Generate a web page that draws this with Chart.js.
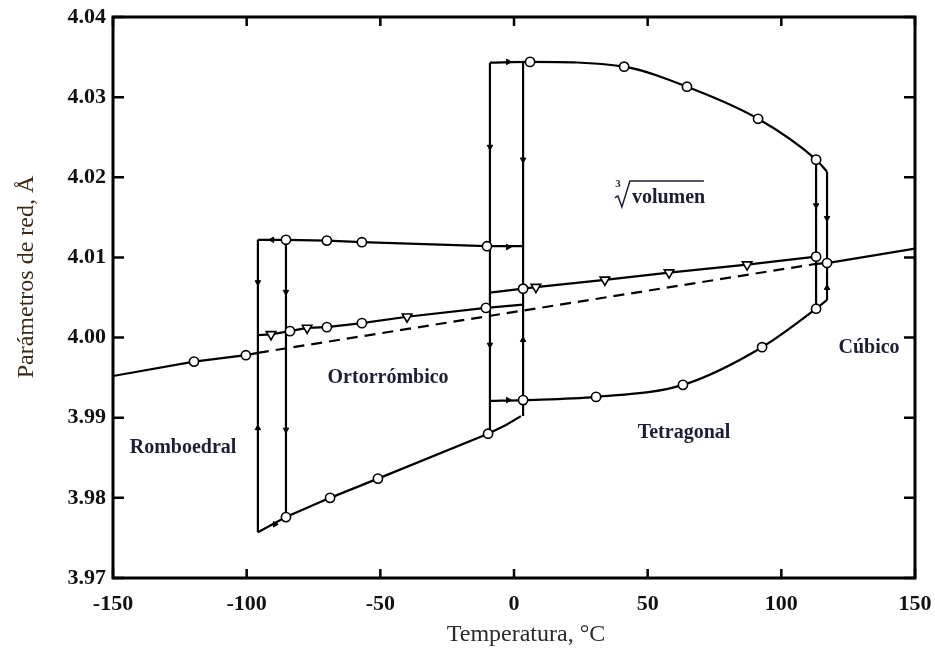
<!DOCTYPE html>
<html>
<head>
<meta charset="utf-8">
<title>Parámetros de red</title>
<script src="https://cdn.jsdelivr.net/npm/chart.js@4.4.0/dist/chart.umd.min.js"></script>
<style>
  html, body { margin: 0; padding: 0; background: #fff; }
</style>
</head>
<body>
<canvas id="myChart" width="935" height="652"></canvas>
<script>
// axis ticks
var tickX = [-150, -100, -50, 0, 50, 100, 150];
var tickY = [3.97, 3.98, 3.99, 4.00, 4.01, 4.02, 4.03, 4.04];

// rhombohedral a (solid), its extrapolation (dashed) and cubic a (solid)
var romboT = [-150, -119.7, -100.3, -95.8];
var romboA = [3.9952, 3.9970, 3.9978, 3.9981];
var volT = [-95.8, 113.0];
var volA = [3.9981, 4.0092];
var cubicT = [113.0, 117.1, 150];
var cubicA = [4.0092, 4.0093, 4.0111];

// orthorhombic
var ortTopT = [-95.8, -85.3, -70.0, -56.9, -10.1, 3.4];
var ortTopA = [4.0122, 4.0122, 4.0121, 4.0119, 4.0114, 4.0114];
var ortMidT = [-95.8, -90.9, -83.8, -77.4, -70.0, -56.9, -40.0, -10.5, 3.4];
var ortMidA = [4.0003, 4.0004, 4.0008, 4.0012, 4.0013, 4.0018, 4.0026, 4.0037, 4.0041];
var ortBotT = [-95.8, -85.3, -68.8, -50.9, -9.7, -3.0, 2.6];
var ortBotA = [3.9757, 3.9776, 3.9800, 3.9824, 3.9880, 3.9891, 3.9902];

// tetragonal
var tetCT = [-9.0, 6.0, 41.2, 64.7, 91.3, 113.0, 117.1];
var tetCA = [4.0343, 4.0344, 4.0338, 4.0313, 4.0273, 4.0222, 4.0207];
var tetAT = [-9.0, 3.4, 8.2, 34.0, 58.0, 87.2, 113.0];
var tetAA = [4.0056, 4.0061, 4.0063, 4.0072, 4.0081, 4.0091, 4.0101];
var tetBT = [-9.0, 3.4, 30.7, 63.2, 92.8, 113.0, 117.1];
var tetBA = [3.9921, 3.9922, 3.9926, 3.9941, 3.9988, 4.0036, 4.0047];

// measured points (open circles / open triangles)
var circT = [-119.7, -100.3, 117.1,
  -85.3, -70.0, -56.9, -10.1,
  -83.8, -70.0, -56.9, -10.5,
  -85.3, -68.8, -50.9, -9.7,
  6.0, 41.2, 64.7, 91.3, 113.0,
  3.4, 113.0,
  3.4, 30.7, 63.2, 92.8, 113.0];
var circA = [3.9970, 3.9978, 4.0093,
  4.0122, 4.0121, 4.0119, 4.0114,
  4.0008, 4.0013, 4.0018, 4.0037,
  3.9776, 3.9800, 3.9824, 3.9880,
  4.0344, 4.0338, 4.0313, 4.0273, 4.0222,
  4.0061, 4.0101,
  3.9922, 3.9926, 3.9941, 3.9988, 4.0036];
var triT = [-90.9, -77.4, -40.0, 8.2, 34.0, 58.0, 87.2];
var triA = [4.0004, 4.0012, 4.0026, 4.0063, 4.0072, 4.0081, 4.0091];

// transition steps: [temperature, from, to]
var steps = [
  [-95.8, 4.0122, 3.9757],
  [-85.3, 4.0122, 3.9776],
  [-9.0, 4.0343, 3.9880],
  [3.4, 4.0344, 3.9902],
  [113.0, 4.0222, 4.0036],
  [117.1, 4.0207, 4.0047]
];

// small direction arrows along the paths
var arrowT = [-95.8, -95.8, -85.3, -85.3, -90.5, -89.4, -9.0, 3.4, -9.0, 3.4, -2.2, -2.2, -2.2, 113.0, 117.1, 117.1];
var arrowA = [4.0069, 3.9887, 4.0057, 3.9885, 4.0122, 3.9767, 4.0238, 4.0222, 3.9991, 3.9997, 4.0344, 4.0113, 3.9922, 4.0165, 4.0149, 4.0062];
var arrowDir = [180, 0, 180, 180, 270, 90, 180, 180, 180, 0, 90, 90, 90, 180, 180, 0];

var regionNames = ['Romboedral', 'Ortorrómbico', 'Tetragonal', 'Cúbico'];
var regionT = [-123.8, -47.1, 63.6, 132.8];
var regionA = [3.9862, 3.9950, 3.9881, 3.9987];

function pts(t, a) {
  return t.map(function (x, i) { return { x: x, y: a[i] }; });
}

function curve(t, a, extra) {
  var ds = {
    data: pts(t, a),
    showLine: true,
    borderColor: '#000',
    borderWidth: 2.2,
    pointRadius: 0,
    fill: false,
    order: 3
  };
  for (var k in extra) ds[k] = extra[k];
  return ds;
}

var datasets = [
  curve(romboT, romboA),
  curve(volT, volA, { borderDash: [11, 7], borderWidth: 2.2 }),
  curve(cubicT, cubicA),
  curve(ortTopT, ortTopA),
  curve(ortMidT, ortMidA),
  curve(ortBotT, ortBotA),
  curve(tetCT, tetCA, { cubicInterpolationMode: 'monotone' }),
  curve(tetAT, tetAA),
  curve(tetBT, tetBA, { cubicInterpolationMode: 'monotone' })
];

steps.forEach(function (s) {
  datasets.push(curve([s[0], s[0]], [s[1], s[2]]));
});

datasets.push({
  data: pts(arrowT, arrowA),
  showLine: false,
  pointStyle: 'triangle',
  pointRotation: arrowDir,
  pointRadius: 3.2,
  backgroundColor: '#000',
  borderColor: '#000',
  borderWidth: 1,
  order: 2
});
datasets.push({
  data: pts(circT, circA),
  showLine: false,
  pointStyle: 'circle',
  pointRadius: 4.6,
  backgroundColor: '#fff',
  borderColor: '#000',
  borderWidth: 1.6,
  order: 1
});
datasets.push({
  data: pts(triT, triA),
  showLine: false,
  pointStyle: 'triangle',
  pointRotation: 180,
  pointRadius: 5.5,
  backgroundColor: '#fff',
  borderColor: '#000',
  borderWidth: 1.6,
  order: 1
});

// frame with inward ticks, axis titles and region names
var decorations = {
  id: 'decorations',
  afterDraw: function (chart) {
    var ctx = chart.ctx, a = chart.chartArea;
    var sx = chart.scales.x, sy = chart.scales.y;
    ctx.save();
    ctx.strokeStyle = '#000';
    ctx.lineWidth = 2.5;
    tickX.forEach(function (v) {
      var p = sx.getPixelForValue(v);
      ctx.beginPath();
      ctx.moveTo(p, a.bottom); ctx.lineTo(p, a.bottom - 9);
      ctx.moveTo(p, a.top); ctx.lineTo(p, a.top + 9);
      ctx.stroke();
    });
    tickY.forEach(function (v) {
      var p = sy.getPixelForValue(v);
      ctx.beginPath();
      ctx.moveTo(a.left, p); ctx.lineTo(a.left + 11, p);
      ctx.moveTo(a.right, p); ctx.lineTo(a.right - 11, p);
      ctx.stroke();
    });
    ctx.lineWidth = 3;
    ctx.strokeRect(a.left, a.top, a.right - a.left, a.bottom - a.top);

    // region names
    ctx.fillStyle = '#1b1f36';
    ctx.font = 'bold 20px "Liberation Serif", "Times New Roman", serif';
    ctx.textAlign = 'center';
    ctx.textBaseline = 'middle';
    regionNames.forEach(function (n, i) {
      ctx.fillText(n, sx.getPixelForValue(regionT[i]), sy.getPixelForValue(regionA[i]));
    });

    // cube root of volume label
    var tx = sx.getPixelForValue(44.1), ty = sy.getPixelForValue(4.0178);
    ctx.textAlign = 'left';
    ctx.textBaseline = 'alphabetic';
    ctx.fillText('volumen', tx, ty + 8);
    ctx.lineWidth = 1.5;
    ctx.strokeStyle = '#1b1f36';
    ctx.beginPath();
    ctx.moveTo(tx - 17, ty + 3);
    ctx.lineTo(tx - 14, ty + 1);
    ctx.lineTo(tx - 10, ty + 12);
    ctx.lineTo(tx - 2, ty - 14);
    ctx.lineTo(tx + 72, ty - 14);
    ctx.stroke();
    ctx.font = 'bold 11px "Liberation Serif", serif';
    ctx.textAlign = 'center';
    ctx.fillText('3', tx - 14, ty - 8);

    // axis titles
    ctx.font = '24px "Liberation Serif", "Times New Roman", serif';
    ctx.textBaseline = 'middle';
    ctx.fillStyle = '#2a2a2a';
    ctx.fillText('Temperatura, °C', a.left + 413, a.bottom + 57);
    ctx.save();
    ctx.translate(a.left - 86, a.top + 260);
    ctx.rotate(-Math.PI / 2);
    ctx.fillStyle = '#3d2a14';
    ctx.fillText('Parámetros de red, Å', 0, 0);
    ctx.restore();
    ctx.restore();
  }
};

var ctx = document.getElementById('myChart').getContext('2d');
var chart = new Chart(ctx, {
  type: 'scatter',
  data: { datasets: datasets },
  options: {
    responsive: false,
    animation: false,
    layout: { padding: { top: 17, right: 20, left: 0, bottom: 0 } },
    plugins: { legend: { display: false }, tooltip: { enabled: false } },
    scales: {
      x: {
        type: 'linear',
        min: -150, max: 150,
        afterBuildTicks: function (s) { s.ticks = tickX.map(function (v) { return { value: v }; }); },
        afterFit: function (s) { s.height = 74; s.paddingLeft = 0; s.paddingRight = 0; },
        grid: { display: false, drawTicks: false },
        border: { display: false },
        ticks: {
          padding: 13,
          color: '#111',
          font: { family: '"Liberation Serif", "Times New Roman", serif', size: 22, weight: 'bold' }
        }
      },
      y: {
        type: 'linear',
        min: 3.97, max: 4.04,
        afterBuildTicks: function (s) { s.ticks = tickY.map(function (v) { return { value: v }; }); },
        afterFit: function (s) { s.width = 113; s.paddingTop = 0; s.paddingBottom = 0; },
        grid: { display: false, drawTicks: false },
        border: { display: false },
        ticks: {
          padding: 7,
          color: '#111',
          font: { family: '"Liberation Serif", "Times New Roman", serif', size: 22, weight: 'bold' },
          callback: function (v) { return v.toFixed(2); }
        }
      }
    }
  },
  plugins: [decorations]
});
</script>
</body>
</html>
